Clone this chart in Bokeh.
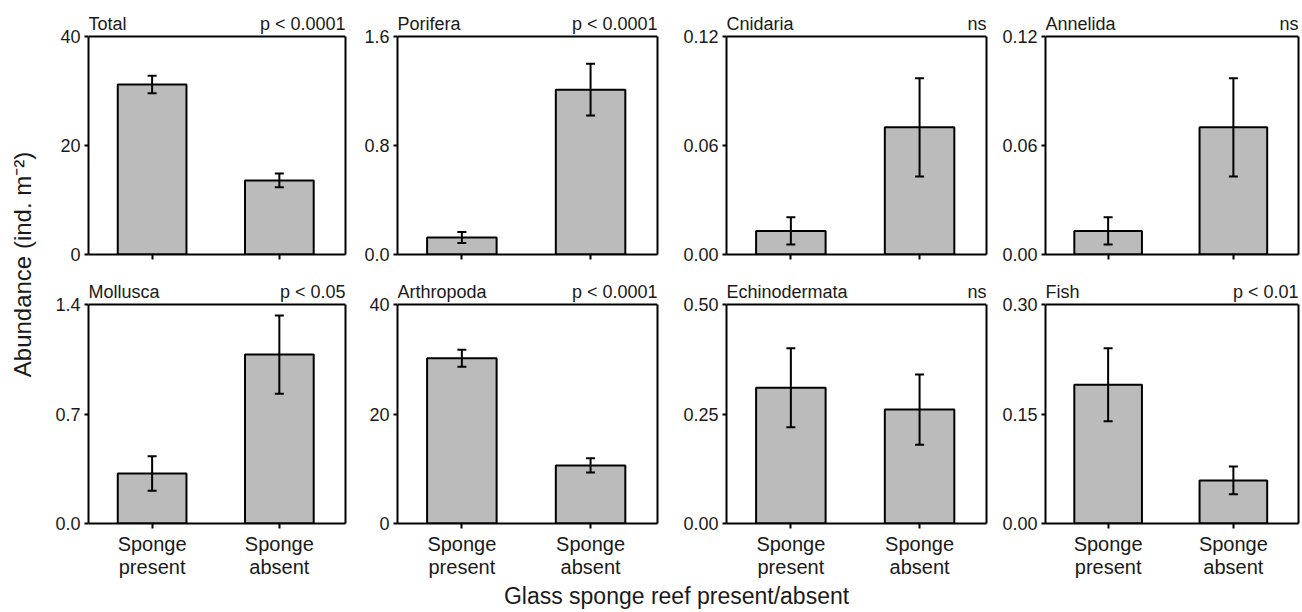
from bokeh.plotting import figure
from bokeh.models import (Range1d, FixedTicker, Whisker, ColumnDataSource, Label,
                          TeeHead, LinearAxis, Span)
from bokeh.layouts import row, column
from bokeh.embed import file_html
from bokeh.resources import INLINE
import math

# ---------------- data ----------------
groups = ["Sponge present", "Sponge absent"]
group_tick_labels = ["Sponge\npresent", "Sponge\nabsent"]
group_x = [1, 2]

taxa = ["Total", "Porifera", "Cnidaria", "Annelida",
        "Mollusca", "Arthropoda", "Echinodermata", "Fish"]
p_labels = ["p < 0.0001", "p < 0.0001", "ns", "ns",
            "p < 0.05", "p < 0.0001", "ns", "p < 0.01"]

total_mean = [31.2, 13.6]
total_se = [1.6, 1.25]
porifera_mean = [0.125, 1.21]
porifera_se = [0.04, 0.19]
cnidaria_mean = [0.013, 0.070]
cnidaria_se = [0.0075, 0.027]
annelida_mean = [0.013, 0.070]
annelida_se = [0.0075, 0.027]
mollusca_mean = [0.32, 1.08]
mollusca_se = [0.11, 0.25]
arthropoda_mean = [30.2, 10.6]
arthropoda_se = [1.55, 1.3]
echinodermata_mean = [0.31, 0.26]
echinodermata_se = [0.09, 0.08]
fish_mean = [0.19, 0.059]
fish_se = [0.05, 0.019]

means = [total_mean, porifera_mean, cnidaria_mean, annelida_mean,
         mollusca_mean, arthropoda_mean, echinodermata_mean, fish_mean]
ses = [total_se, porifera_se, cnidaria_se, annelida_se,
       mollusca_se, arthropoda_se, echinodermata_se, fish_se]

y_ticks = [[0, 20, 40], [0, 0.8, 1.6], [0, 0.06, 0.12], [0, 0.06, 0.12],
           [0, 0.7, 1.4], [0, 20, 40], [0, 0.25, 0.5], [0, 0.15, 0.3]]
y_tick_labels = [["0", "20", "40"], ["0.0", "0.8", "1.6"], ["0.00", "0.06", "0.12"],
                 ["0.00", "0.06", "0.12"], ["0.0", "0.7", "1.4"], ["0", "20", "40"],
                 ["0.00", "0.25", "0.50"], ["0.00", "0.15", "0.30"]]

y_axis_title = "Abundance (ind. m\u207b\u00b2)"
x_axis_title = "Glass sponge reef present/absent"

# ---------------- style / layout ----------------
FONT = "Liberation Sans"
TXT = "#1a1a1a"
BAR_FILL = "#bbbbbb"
X_START, X_END = 0.5, 2.52
BAR_W = 0.54

YLAB_W = 48
col_border_left = [40, 39, 48, 47]
col_frame_width = [257, 260, 260, 253]
col_border_right = [13, 21, 12, 3]
row_border_top = [8, 2]
row_head = [28, 26]          # title strip inside the frame, above the plot box
row_box_height = [218, 219]
row_border_bottom = [22, 57]
TOTAL_H = 611


def make_panel(i):
    r, c = divmod(i, 4)
    ymax = y_ticks[i][-1]
    box_h = row_box_height[r]
    frame_h = box_h + row_head[r]
    y_end = ymax * frame_h / box_h
    p = figure(frame_width=col_frame_width[c], frame_height=frame_h,
               min_border_left=col_border_left[c], min_border_right=col_border_right[c],
               min_border_top=row_border_top[r], min_border_bottom=row_border_bottom[r],
               x_range=Range1d(X_START, X_END), y_range=Range1d(0, y_end),
               toolbar_location=None, output_backend="svg", title=None)
    p.grid.visible = False
    p.background_fill_color = "white"
    p.border_fill_color = "white"
    p.outline_line_color = None

    src = ColumnDataSource(dict(
        x=group_x, mean=means[i],
        upper=[m + s for m, s in zip(means[i], ses[i])],
        lower=[m - s for m, s in zip(means[i], ses[i])],
        group=groups))
    p.vbar(x="x", top="mean", bottom=0, width=BAR_W, source=src,
           fill_color=BAR_FILL, line_color="black", line_width=2)
    w = Whisker(source=src, base="x", upper="upper", lower="lower",
                line_color="black", line_width=2, level="overlay",
                upper_head=TeeHead(size=9, line_color="black", line_width=2),
                lower_head=TeeHead(size=9, line_color="black", line_width=2))
    p.add_layout(w)

    # right side of the plot box
    rax = LinearAxis(ticker=FixedTicker(ticks=[]), bounds=(0, ymax),
                     axis_line_color="black", axis_line_width=2,
                     major_tick_line_color=None, minor_tick_line_color=None,
                     major_label_text_font_size="0px")
    p.add_layout(rax, "right")
    # top side of the plot box
    p.add_layout(Span(location=ymax, dimension="width", line_color="black", line_width=2))

    # axes
    for ax in (p.xaxis[0], p.yaxis[0]):
        ax.axis_line_color = "black"
        ax.axis_line_width = 2
        ax.major_tick_line_color = "black"
        ax.major_tick_line_width = 2
        ax.major_tick_in = 0
        ax.minor_tick_line_color = None
        ax.major_label_text_font = FONT
        ax.major_label_text_color = TXT
    p.yaxis[0].bounds = (0, ymax)
    p.yaxis[0].ticker = FixedTicker(ticks=y_ticks[i])
    p.yaxis[0].major_label_overrides = {t: lab for t, lab in zip(y_ticks[i], y_tick_labels[i])}
    p.yaxis[0].major_tick_out = 4
    p.yaxis[0].major_label_standoff = 4
    p.yaxis[0].major_label_text_font_size = "18px"
    p.xaxis[0].ticker = FixedTicker(ticks=group_x)
    p.xaxis[0].major_tick_out = 5
    p.xaxis[0].major_label_standoff = 4
    if r == 1:
        p.xaxis[0].major_label_overrides = {x: lab for x, lab in zip(group_x, group_tick_labels)}
        p.xaxis[0].major_label_text_font_size = "20px"
        p.xaxis[0].major_label_text_line_height = 1.05
    else:
        p.xaxis[0].major_label_overrides = {x: "" for x in group_x}
        p.xaxis[0].major_label_text_font_size = "1px"

    # panel titles (inside the frame's title strip)
    p.add_layout(Label(x=X_START, y=ymax, y_offset=13, text=taxa[i],
                       text_align="left", text_baseline="alphabetic",
                       text_font=FONT, text_font_size="18px", text_color=TXT))
    p.add_layout(Label(x=X_END, y=ymax, y_offset=13, text=p_labels[i],
                       text_align="right", text_baseline="alphabetic",
                       text_font=FONT, text_font_size="18px", text_color=TXT))
    return p


panels = [make_panel(i) for i in range(8)]

grid_w = sum(col_border_left) + sum(col_frame_width) + sum(col_border_right)

ylab = figure(width=YLAB_W, height=TOTAL_H, x_range=Range1d(0, YLAB_W), y_range=Range1d(0, TOTAL_H),
              x_axis_location=None, y_axis_location=None, min_border=0,
              toolbar_location=None, output_backend="svg")
ylab.grid.visible = False
ylab.outline_line_color = None
ylab.add_layout(Label(x=22, y=TOTAL_H - 264, text=y_axis_title, angle=math.pi / 2,
                      text_align="center", text_baseline="alphabetic",
                      text_font=FONT, text_font_size="24px", text_color=TXT))

rows_h = sum(row_border_top) + sum(row_head) + sum(row_box_height) + sum(row_border_bottom)
XLAB_H = TOTAL_H - rows_h
xlab = figure(width=grid_w, height=XLAB_H, x_range=Range1d(0, grid_w), y_range=Range1d(0, XLAB_H),
              x_axis_location=None, y_axis_location=None, min_border=0,
              toolbar_location=None, output_backend="svg")
xlab.grid.visible = False
xlab.outline_line_color = None
xlab.add_layout(Label(x=628, y=16, text=x_axis_title,
                      text_align="center", text_baseline="alphabetic",
                      text_font=FONT, text_font_size="23px", text_color=TXT))

layout = row(ylab, column(row(*panels[:4]), row(*panels[4:]), xlab))

open("out.html", "w").write(file_html(layout, INLINE))
